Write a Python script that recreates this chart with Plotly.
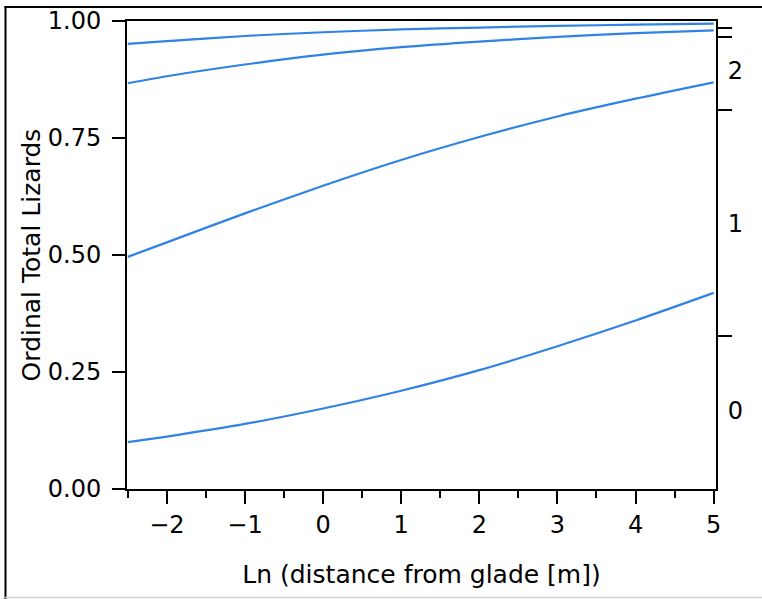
import plotly.graph_objects as go

# Values
x_vals = [-2.5, -2, -1, 0, 1, 2, 3, 4, 5]
curve_0 = [0.100, 0.112, 0.139, 0.172, 0.210, 0.254, 0.305, 0.360, 0.419]
curve_1 = [0.496, 0.527, 0.589, 0.648, 0.703, 0.752, 0.796, 0.834, 0.869]
curve_2 = [0.867, 0.882, 0.907, 0.928, 0.944, 0.956, 0.966, 0.974, 0.980]
curve_3 = [0.951, 0.957, 0.968, 0.976, 0.982, 0.986, 0.9896, 0.9922, 0.9945]

x_ticks = [-2, -1, 0, 1, 2, 3, 4, 5]
x_tick_labels = ["\u22122", "\u22121", "0", "1", "2", "3", "4", "5"]
y_ticks = [0.0, 0.25, 0.5, 0.75, 1.0]
level_bounds = [0.327, 0.810, 0.966, 0.985]
level_mids = [0.167, 0.568, 0.893]
level_labels = ["0", "1", "2"]

BLUE = "#3083e6"
FONT = "DejaVu Sans"

fig = go.Figure()
for ys in [curve_0, curve_1, curve_2, curve_3]:
    fig.add_trace(go.Scatter(x=x_vals, y=ys, mode="lines",
                             line=dict(color=BLUE, width=2.2, shape="spline", smoothing=0.8),
                             showlegend=False, hoverinfo="skip"))
# dummy traces to activate right-hand axes
fig.add_trace(go.Scatter(x=[None], y=[None], yaxis="y2", showlegend=False, hoverinfo="skip"))
fig.add_trace(go.Scatter(x=[None], y=[None], yaxis="y3", showlegend=False, hoverinfo="skip"))

W, H = 762, 599
L, R, T, B = 127, 716, 21, 489

def px(x):
    return (x - L) / (R - L)

def py(y):
    return (B - y) / (B - T)

shapes = [
    dict(type="line", xref="paper", yref="paper", x0=px(5.5), x1=px(5.5), y0=py(6), y1=py(600),
         line=dict(color="black", width=2)),
    dict(type="line", xref="paper", yref="paper", x0=px(4.5), x1=px(770), y0=py(7), y1=py(7),
         line=dict(color="black", width=2)),
    dict(type="line", xref="paper", yref="paper", x0=px(5), x1=px(770), y0=py(597.5), y1=py(597.5),
         line=dict(color="#d0d0d0", width=1.5)),
]

fig.update_layout(
    width=W, height=H,
    margin=dict(l=L, r=W - R, t=T, b=H - B, pad=0, autoexpand=False),
    paper_bgcolor="white", plot_bgcolor="white",
    font=dict(family=FONT, size=24, color="black"),
    shapes=shapes,
    xaxis=dict(
        range=[-2.51, 5.03], tickvals=x_ticks, ticktext=x_tick_labels,
        ticks="outside", ticklen=13, tickwidth=2, tickcolor="black",
        ticklabelstandoff=0, automargin=False,
        showline=True, linewidth=2, linecolor="black", mirror=True,
        showgrid=False, zeroline=False,
        minor=dict(dtick=0.5, tick0=0, ticks="outside", ticklen=7, tickwidth=2, tickcolor="black", showgrid=False),
        title=dict(text="Ln (distance from glade [m])", standoff=28, font=dict(size=25)),
        tickfont=dict(size=24),
    ),
    yaxis=dict(
        range=[0, 1], tickvals=y_ticks, tickformat=".2f",
        ticks="outside", ticklen=13, tickwidth=2, tickcolor="black",
        ticklabelstandoff=6, automargin=False,
        showline=True, linewidth=2, linecolor="black", mirror=True,
        showgrid=False, zeroline=False,
        title=dict(text="Ordinal Total Lizards", standoff=0, font=dict(size=25)),
        tickfont=dict(size=24),
    ),
    yaxis2=dict(
        range=[0, 1], overlaying="y", side="right", anchor="x", automargin=False,
        tickvals=level_bounds, showticklabels=False,
        ticks="outside", ticklen=14, tickwidth=2, tickcolor="black",
        showline=True, linewidth=2, linecolor="black",
        showgrid=False, zeroline=False,
    ),
    yaxis3=dict(
        range=[0, 1], overlaying="y", side="right", anchor="x", automargin=False,
        tickvals=level_mids, ticktext=level_labels,
        ticks="outside", ticklen=6, tickcolor="rgba(0,0,0,0)",
        showline=False, showgrid=False, zeroline=False,
        tickfont=dict(size=24),
    ),
)

post = ("document.body.style.margin='0px';"
        "var gd=document.getElementById('{plot_id}');"
        "gd.style.position='absolute';gd.style.top='0px';gd.style.left='0px';")
fig.write_html("out.html", config={"displayModeBar": False}, post_script=post)
